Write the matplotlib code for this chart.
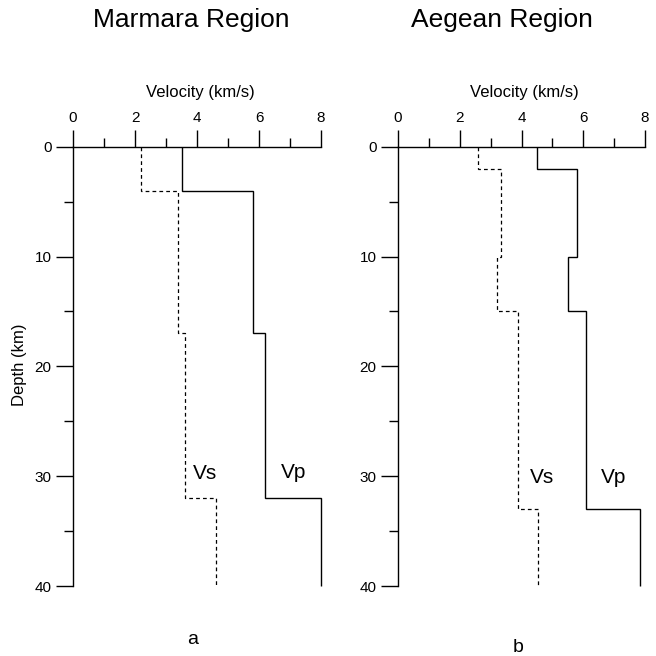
#!/usr/bin/env python3
import matplotlib
matplotlib.use('Agg')
import matplotlib.pyplot as plt

# layer boundaries (km) and velocities (km/s)
marmara_vp_depth = [0, 4, 17, 32, 40]
marmara_vp = [3.5, 5.8, 6.2, 8.0]
marmara_vs_depth = [0, 4, 17, 32, 40]
marmara_vs = [2.2, 3.4, 3.6, 4.6]

aegean_vp_depth = [0, 2, 10, 15, 33, 40]
aegean_vp = [4.5, 5.8, 5.5, 6.1, 7.85]
aegean_vs_depth = [0, 2, 10, 15, 33, 40]
aegean_vs = [2.6, 3.35, 3.2, 3.9, 4.55]

titles = ['Marmara Region', 'Aegean Region']
panel_tags = ['a', 'b']

W = H = 656


def style_axis(ax):
    ax.set_xlim(0, 8)
    ax.set_ylim(40, 0)
    for s in ('right', 'bottom'):
        ax.spines[s].set_visible(False)
    for s in ('left', 'top'):
        ax.spines[s].set_linewidth(1.0)
    ax.xaxis.tick_top()
    ax.set_xticks([0, 2, 4, 6, 8])
    ax.set_xticks([1, 3, 5, 7], minor=True)
    ax.set_yticks([0, 10, 20, 30, 40])
    ax.set_yticks([5, 15, 25, 35], minor=True)
    ax.tick_params(which='major', direction='out', length=12, width=1.0,
                   labelsize=11, pad=3.5)
    ax.tick_params(which='minor', direction='out', length=6.3, width=1.0)
    ax.patch.set_visible(False)


def main() -> None:
    plt.rcParams['font.family'] = ['Liberation Sans', 'DejaVu Sans']
    fig = plt.figure(figsize=(W / 100, H / 100), dpi=100)

    boxes = [(73, 321), (398, 645)]
    top, bottom = 146.7, 586
    models = [
        (marmara_vp_depth, marmara_vp, marmara_vs_depth, marmara_vs,
         (4.25, 29.8), (7.1, 29.7)),
        (aegean_vp_depth, aegean_vp, aegean_vs_depth, aegean_vs,
         (4.66, 30.1), (6.97, 30.1)),
    ]
    title_x = [191.5, 501.5]
    tag_pos = [(193, 639), (518, 647)]

    for i, (x0, x1) in enumerate(boxes):
        ax = fig.add_axes([x0 / W, 1 - bottom / H, (x1 - x0) / W, (bottom - top) / H])
        style_axis(ax)
        vp_d, vp, vs_d, vs, vs_pos, vp_pos = models[i]
        ax.stairs(vp, vp_d, orientation='horizontal', baseline=None,
                  color='black', lw=1.0, clip_on=False)
        ax.stairs(vs, vs_d, orientation='horizontal', baseline=None,
                  color='black', lw=0.9, linestyle=(0, (3, 2.5)), clip_on=False)
        ax.text(vs_pos[0], vs_pos[1], 'Vs', fontsize=15, ha='center', va='center')
        ax.text(vp_pos[0], vp_pos[1], 'Vp', fontsize=15, ha='center', va='center')

        cx = (x0 + x1) / 2 / W
        fig.text(title_x[i] / W, 1 - 20.5 / H, titles[i], fontsize=19,
                 ha='center', va='center')
        fig.text(cx + 3 / W, 1 - 93 / H, 'Velocity (km/s)', fontsize=12,
                 ha='center', va='center')
        tx, ty = tag_pos[i]
        fig.text(tx / W, 1 - ty / H, panel_tags[i], fontsize=14, ha='center', va='center')

    fig.text(20 / W, 1 - 365 / H, 'Depth (km)', fontsize=12, rotation=90,
             ha='center', va='center')

    fig.savefig('out.png', dpi=100, facecolor='white')
    plt.close(fig)


if __name__ == '__main__':
    main()
